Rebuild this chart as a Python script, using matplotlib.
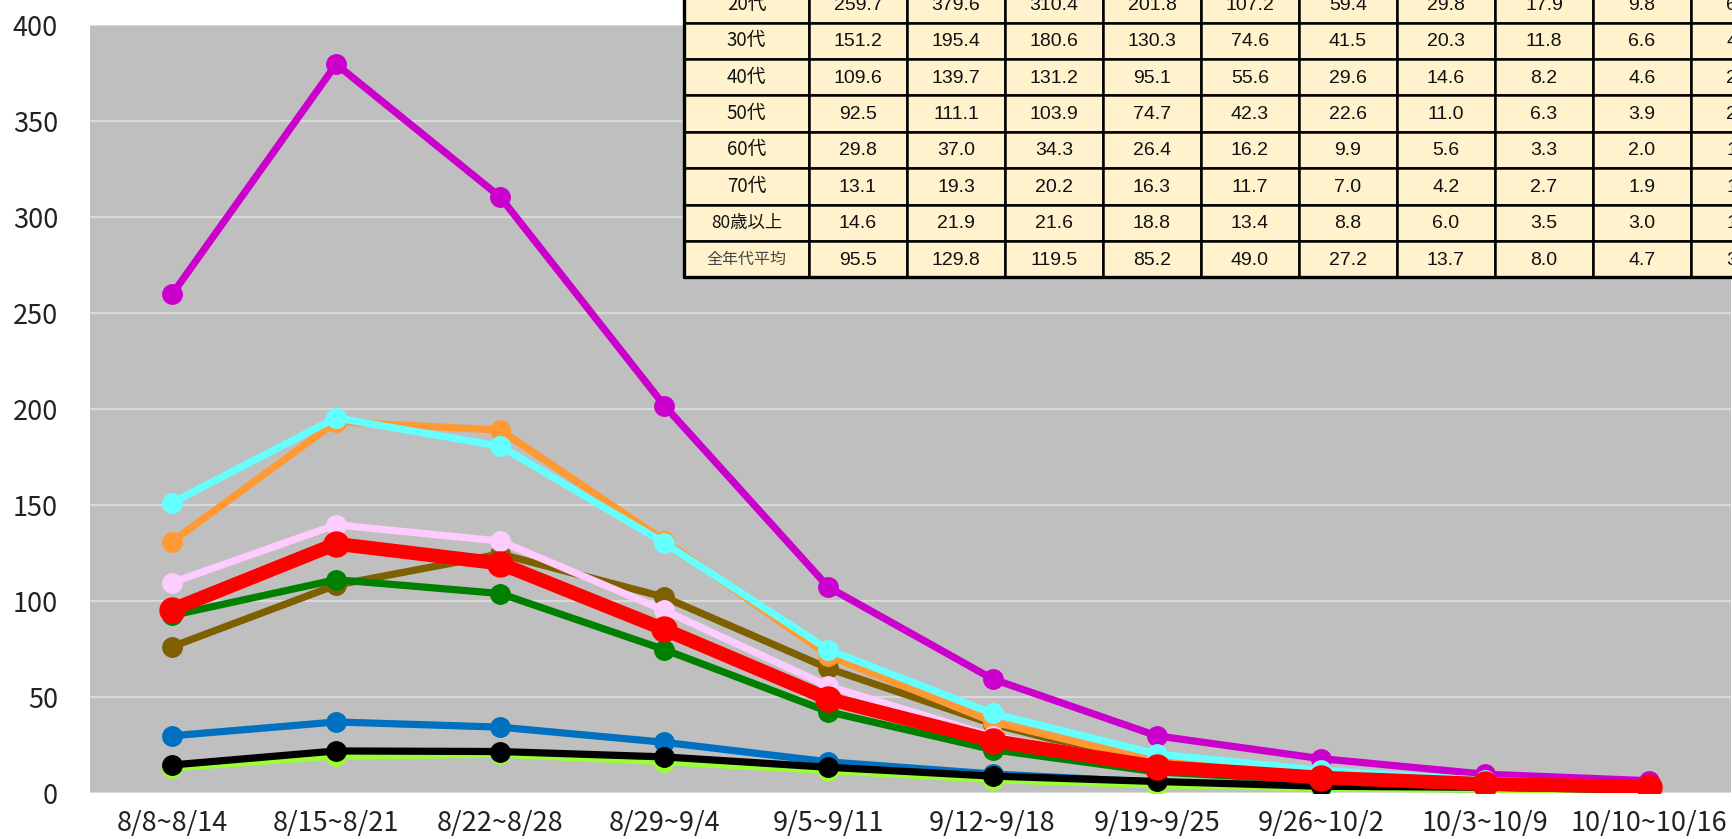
import numpy as np
import matplotlib
matplotlib.use("Agg")
import matplotlib.pyplot as plt
from matplotlib.patches import Rectangle

# weekly values per age group (per 100k)
weeks = ['8/8~8/14', '8/15~8/21', '8/22~8/28', '8/29~9/4', '9/5~9/11',
         '9/12~9/18', '9/19~9/25', '9/26~10/2', '10/3~10/9', '10/10~10/16']

age_groups = ['10歳未満', '10代', '20代', '30代', '40代', '50代', '60代', '70代', '80歳以上', '全年代平均']

under10 = [76.2, 108.3, 124.5, 102.0, 64.9, 36.0, 14.0, 7.0, 3.5, 2.0]
teens = [130.9, 193.4, 189.0, 131.5, 71.5, 37.1, 16.5, 9.0, 5.0, 3.0]
twenties = [259.7, 379.6, 310.4, 201.8, 107.2, 59.4, 29.8, 17.9, 9.8, 6.4]
thirties = [151.2, 195.4, 180.6, 130.3, 74.6, 41.5, 20.3, 11.8, 6.6, 4.3]
forties = [109.6, 139.7, 131.2, 95.1, 55.6, 29.6, 14.6, 8.2, 4.6, 2.6]
fifties = [92.5, 111.1, 103.9, 74.7, 42.3, 22.6, 11.0, 6.3, 3.9, 2.3]
sixties = [29.8, 37.0, 34.3, 26.4, 16.2, 9.9, 5.6, 3.3, 2.0, 1.3]
seventies = [13.1, 19.3, 20.2, 16.3, 11.7, 7.0, 4.2, 2.7, 1.9, 1.2]
over80 = [14.6, 21.9, 21.6, 18.8, 13.4, 8.8, 6.0, 3.5, 3.0, 1.6]
all_avg = [95.5, 129.8, 119.5, 85.2, 49.0, 27.2, 13.7, 8.0, 4.7, 3.3]

series = [under10, teens, twenties, thirties, forties, fifties, sixties, seventies, over80, all_avg]
colors = ['#7F6000', '#FF9933', '#CC00CC', '#66FFFF', '#FFCCFF', '#008000',
          '#0070C0', '#99FF33', '#000000', '#FF0000']

W, H = 1733, 839
fig = plt.figure(figsize=(W / 100, H / 100), dpi=100)

# main chart area
x_left, x_right, y_top, y_bot = 90, 1731, 25, 793
ax = fig.add_axes([x_left / W, (H - y_bot) / H, (x_right - x_left) / W, (y_bot - y_top) / H])
ax.set_facecolor('#BFBFBF')

x = np.arange(len(weeks))
for vals, c in zip(series, colors):
    if c == '#FF0000':
        ax.plot(x, vals, '-o', color=c, lw=10, ms=18, solid_capstyle='round')
    else:
        ax.plot(x, vals, '-o', color=c, lw=5.2, ms=14, solid_capstyle='round')

ax.set_xlim(-0.5, len(weeks) - 0.5)
ax.set_ylim(0, 400)
ax.set_yticks(np.arange(0, 401, 50))
ax.set_xticks(x)
ax.set_xticklabels(weeks)
ax.grid(axis='y', color='#D9D9D9', lw=1.5)
ax.set_axisbelow(True)
for s in ax.spines.values():
    s.set_visible(False)
ax.tick_params(length=0, labelsize=19.5, colors='#222222')
ax.tick_params(axis='y', pad=23)
ax.tick_params(axis='x', pad=12)
for lab in ax.get_xticklabels() + ax.get_yticklabels():
    lab.set_family(['Noto Sans CJK JP', 'DejaVu Sans'])

# overlaid data table (top right, partly outside the picture)
tab = fig.add_axes([0, 0, 1, 1])
tab.set_xlim(0, W)
tab.set_ylim(H, 0)
tab.axis('off')
tab.patch.set_alpha(0)

row_h = 36.4
first_col_l, first_col_r = 684, 809
col_w = 98.0
bottom = 277.3
n_rows = len(age_groups)
top = bottom - n_rows * row_h
label_sizes = {'80歳以上': 12.5, '全年代平均': 11.5, '10歳未満': 12.5}

for r, (name, vals) in enumerate(zip(age_groups, series)):
    y0 = top + r * row_h
    tab.add_patch(Rectangle((first_col_l, y0), first_col_r - first_col_l, row_h,
                            facecolor='#FFF2CC', edgecolor='black', lw=1.8, zorder=3))
    tab.text((first_col_l + first_col_r) / 2, y0 + row_h / 2, name,
             ha='center', va='center', fontsize=label_sizes.get(name, 13.5),
             family=['Noto Sans CJK JP', 'DejaVu Sans'],
             color='#444444' if name == '全年代平均' else '#111111', zorder=4)
    for c, v in enumerate(vals):
        cx = first_col_r + c * col_w
        tab.add_patch(Rectangle((cx, y0), col_w, row_h, facecolor='#FFF2CC',
                                edgecolor='black', lw=1.8, zorder=3))
        tab.text(cx + col_w / 2, y0 + row_h / 2 + 1, f'{v:.1f}', ha='center', va='center',
                 fontsize=14, family='Liberation Sans', color='#111111', zorder=4)

# heavier outer border
tab.plot([first_col_l, first_col_l, W + 10], [top, bottom, bottom], color='black', lw=2.4, zorder=5)

fig.savefig('out.png', dpi=100, facecolor='white')
